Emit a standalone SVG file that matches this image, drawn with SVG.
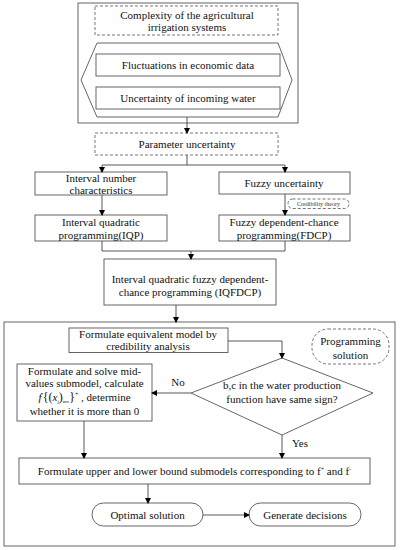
<svg xmlns="http://www.w3.org/2000/svg" width="400" height="550" viewBox="0 0 400 550">
<defs>
<marker id="ah" markerWidth="6" markerHeight="6" refX="5" refY="3" orient="auto" markerUnits="userSpaceOnUse">
<path d="M0,0 L6,3 L0,6 z" fill="#000"/>
</marker>
<style>
.b{fill:#fff;stroke:#555;stroke-width:0.9}
.d{fill:#fff;stroke:#666;stroke-width:0.9;stroke-dasharray:3,2}
.t{font-family:"Liberation Serif","Times New Roman",serif;font-size:11px;fill:#111;text-anchor:middle}
.s{font-family:"Liberation Serif","Times New Roman",serif;font-size:6px;fill:#333;text-anchor:middle}
.c{fill:none;stroke:#444;stroke-width:0.9}
</style>
</defs>
<rect width="400" height="550" fill="#fff"/>

<g id="top-frame">
<rect class="b" x="78" y="3" width="220" height="120"/>
</g>
<g id="complexity">
<rect class="d" x="95" y="6" width="183" height="29"/>
<text class="t" x="187" y="18.5">Complexity of the agricultural</text>
<text class="t" x="187" y="31">irrigation systems</text>
</g>
<g id="hexagon">
<polygon class="b" points="97,43 278,43 292,80 278,117 97,117 81,80"/>
</g>
<g id="fluctuations">
<rect class="b" x="96" y="54" width="184" height="22"/>
<text class="t" x="188" y="68.5">Fluctuations in economic data</text>
</g>
<g id="uncertainty-water">
<rect class="b" x="96" y="87" width="184" height="22"/>
<text class="t" x="188" y="102">Uncertainty of incoming water</text>
</g>
<g id="param">
<rect class="d" x="95" y="133" width="183" height="22"/>
<text class="t" x="187" y="148">Parameter uncertainty</text>
</g>
<g id="interval-number">
<rect class="b" x="35" y="172" width="132" height="23"/>
<text class="t" x="101" y="181.5">Interval number</text>
<text class="t" x="101" y="194">characteristics</text>
</g>
<g id="fuzzy-uncertainty">
<rect class="b" x="219" y="172" width="131" height="22"/>
<text class="t" x="284" y="186.5">Fuzzy uncertainty</text>
</g>
<g id="credibility-theory">
<rect class="d" x="288" y="199" width="61" height="9.5" rx="4.5"/>
<text class="s" x="318.5" y="206">Credibility theory</text>
</g>
<g id="iqp">
<rect class="b" x="35" y="215" width="132" height="26"/>
<text class="t" x="101" y="225.5">Interval quadratic</text>
<text class="t" x="101" y="238.5">programming(IQP)</text>
</g>
<g id="fdcp">
<rect class="b" x="219" y="215" width="131" height="26"/>
<text class="t" x="284" y="225.5">Fuzzy dependent-chance</text>
<text class="t" x="284" y="238.5">programming(FDCP)</text>
</g>
<g id="iqfdcp">
<rect class="b" x="104" y="259" width="172" height="46"/>
<text class="t" x="190" y="282.5">Interval quadratic fuzzy dependent-</text>
<text class="t" x="190" y="296">chance programming (IQFDCP)</text>
</g>
<g id="bottom-frame">
<rect class="b" x="4" y="322" width="391" height="224"/>
</g>
<g id="equivalent">
<rect class="b" x="69" y="328" width="159" height="24.5"/>
<text class="t" x="148" y="337.5">Formulate equivalent model by</text>
<text class="t" x="148" y="350">credibility analysis</text>
</g>
<g id="programming-solution">
<rect class="d" x="312" y="329" width="77" height="35" rx="16"/>
<text class="t" x="350.5" y="345">Programming</text>
<text class="t" x="350.5" y="359">solution</text>
</g>
<g id="diamond">
<polygon class="b" points="282,358 373,393 282,435 191,393"/>
<text class="t" x="282" y="388.5">b,c in the water production</text>
<text class="t" x="282" y="402.5">function have same sign?</text>
</g>
<g id="midvalues">
<rect class="b" x="17" y="364" width="135" height="57"/>
<text class="t" x="84.5" y="374.5">Formulate and solve mid-</text>
<text class="t" x="84.5" y="387">values submodel, calculate</text>
<text class="t" x="84.5" y="401"><tspan font-style="italic">f</tspan><tspan font-size="7" dy="-4">'</tspan><tspan dy="4" font-size="12">{(</tspan><tspan font-style="italic">x</tspan><tspan font-size="5" dy="2">j</tspan><tspan dy="-2" font-size="12">)</tspan><tspan font-size="5" dy="2">mv</tspan><tspan dy="-2" font-size="12">}</tspan><tspan font-size="6" dy="-5">+</tspan><tspan dy="5"> ,  determine</tspan></text>
<text class="t" x="84.5" y="414.5">whether it is more than 0</text>
</g>
<g id="bounds">
<rect class="b" x="19" y="458" width="351" height="26"/>
<text class="t" x="194.5" y="475">Formulate upper and lower bound submodels  corresponding to f<tspan font-size="6" dy="-4">+</tspan><tspan dy="4"> and f</tspan><tspan font-size="6" dy="-4">-</tspan></text>
</g>
<g id="optimal">
<rect class="b" x="92" y="503" width="111" height="23" rx="11.5"/>
<text class="t" x="147.5" y="518.5">Optimal solution</text>
</g>
<g id="decisions">
<rect class="b" x="249" y="503" width="112" height="23" rx="11.5"/>
<text class="t" x="305" y="518.5">Generate decisions</text>
</g>
<g id="labels">
<text class="t" x="178" y="385.5">No</text>
<text class="t" x="300" y="447">Yes</text>
</g>
<g id="connectors">
<path class="c" d="M187,117 V133" marker-end="url(#ah)"/>
<path class="c" d="M187,155 V165 M102,165 H285"/>
<path class="c" d="M102,165 V172" marker-end="url(#ah)"/>
<path class="c" d="M285,165 V172" marker-end="url(#ah)"/>
<path class="c" d="M102,195 V215" marker-end="url(#ah)"/>
<path class="c" d="M285,194 V215" marker-end="url(#ah)"/>
<path class="c" d="M102,241 V251 H285 V241"/>
<path class="c" d="M191,251 V259" marker-end="url(#ah)"/>
<path class="c" d="M176,305 V322" marker-end="url(#ah)"/>
<path class="c" d="M228,341 H282 V358" marker-end="url(#ah)"/>
<path class="c" d="M191,393 H152" marker-end="url(#ah)"/>
<path class="c" d="M84,421 V458" marker-end="url(#ah)"/>
<path class="c" d="M282,435 V458" marker-end="url(#ah)"/>
<path class="c" d="M148,484 V503" marker-end="url(#ah)"/>
<path class="c" d="M203,515 H249" marker-end="url(#ah)"/>
</g>
</svg>
